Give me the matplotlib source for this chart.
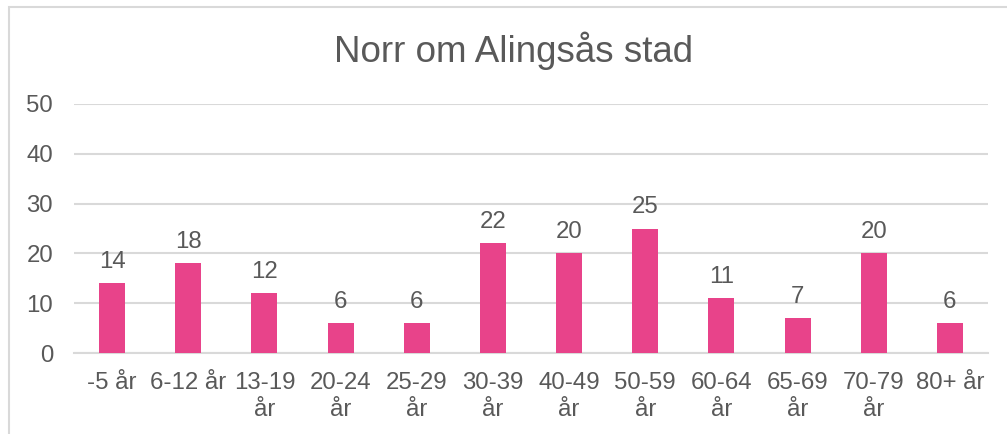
import matplotlib
matplotlib.use("Agg")
import matplotlib.pyplot as plt
from matplotlib.patches import Rectangle

categories = ["-5 år", "6-12 år", "13-19\når", "20-24\når", "25-29\når", "30-39\når",
              "40-49\når", "50-59\når", "60-64\når", "65-69\når", "70-79\når", "80+ år"]
values = [14, 18, 12, 6, 6, 22, 20, 25, 11, 7, 20, 6]
title = "Norr om Alingsås stad"
yticks = [0, 10, 20, 30, 40, 50]

plt.rcParams['font.family'] = ['Liberation Sans', 'DejaVu Sans']
text_color = "#595959"
grid_color = "#D9D9D9"
bar_color = "#E8438A"

fig = plt.figure(figsize=(10.07, 4.34), dpi=100)
ax = fig.add_axes([74/1007, 1-353/434, (988-74)/1007, (353-104)/434])

x = list(range(len(values)))
bars = ax.bar(x, values, width=0.34, color=bar_color, zorder=3)
for xi, v in zip(x, values):
    ax.annotate(str(v), (xi, v), xytext=(0, 11), textcoords="offset points",
                ha="center", va="baseline", fontsize=17.3, color=text_color)

ax.set_xlim(-0.5, len(values) - 0.5)
ax.set_ylim(0, 50)
ax.set_yticks(yticks)
ax.set_xticks(x)
ax.set_xticklabels(categories, fontsize=17.3, color=text_color, linespacing=1.25)
ax.tick_params(axis='y', labelsize=17.3, labelcolor=text_color, length=0, pad=15)
ax.tick_params(axis='x', length=0, pad=14)
ax.yaxis.grid(True, color=grid_color, linewidth=1.5, zorder=0)
ax.set_axisbelow(True)
for s in ["top", "right", "left"]:
    ax.spines[s].set_visible(False)
ax.spines["bottom"].set_color(grid_color)
ax.spines["bottom"].set_linewidth(1.5)
ax.spines["bottom"].set_zorder(2)

fig.text(514/1007, 1-51/434, title, ha="center", va="center", fontsize=26.5, color=text_color)

fig.patches.append(Rectangle((9/1007, -0.2), 1.2, 1.2 - 7/434, transform=fig.transFigure,
                             fill=False, edgecolor=grid_color, linewidth=1.5, zorder=0))

fig.savefig("out.png", dpi=100, facecolor="white")
